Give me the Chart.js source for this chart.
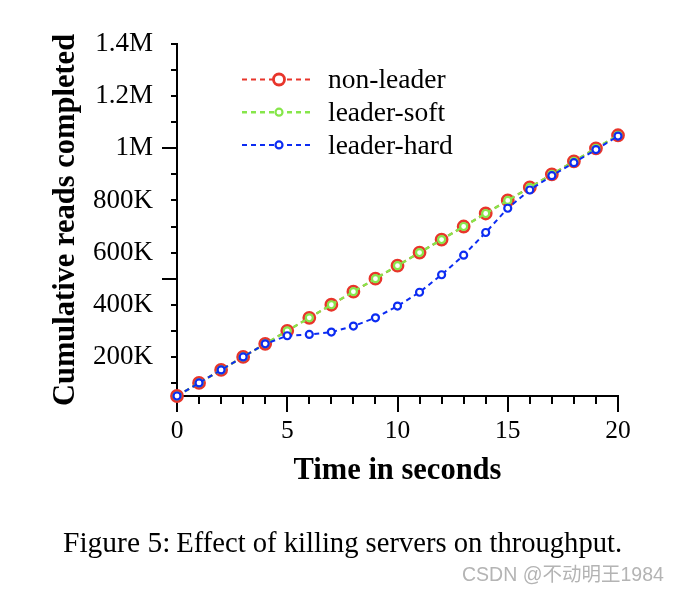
<!DOCTYPE html>
<html>
<head>
<meta charset="utf-8">
<script src="https://cdn.jsdelivr.net/npm/chart.js@4.4.1/dist/chart.umd.min.js"></script>
<style>
  html, body { margin: 0; padding: 0; background: #fff; }
  body { width: 678px; height: 594px; position: relative; overflow: hidden; }
  #wrap { position: absolute; left: 0; top: 0; width: 678px; height: 594px; }
  #caption { position: absolute; left: 63px; top: 528px; font-family: "Liberation Serif", serif; color: #000; white-space: nowrap; line-height: 1; }
  #caption .lab { font-size: 29.5px; }
  #caption .txt { font-size: 28.6px; margin-left: 2px; }
  #wm { position: absolute; left: 462px; top: 563px; font-family: "Liberation Sans", "Noto Sans CJK SC", sans-serif; font-size: 19.5px; color: #b4b4b4; white-space: nowrap; line-height: 1; }
</style>
</head>
<body>
<div id="wrap"><canvas id="c" width="678" height="594"></canvas></div>
<div id="caption"><span class="lab">Figure 5:</span>&nbsp;<span class="txt">Effect of killing servers on throughput.</span></div>
<div id="wm">CSDN @<span style="font-family:'Noto Sans CJK SC',sans-serif">不动明王</span>1984</div>
<script>
// ---- data ----
const seriesNames = ['non-leader', 'leader-soft', 'leader-hard'];
const times = [0,1,2,3,4,5,6,7,8,9,10,11,12,13,14,15,16,17,18,19,20];
const nonLeader  = [50000,100000,150000,200000,250000,300000,350000,400000,450000,500000,550000,600000,650000,700000,750000,800000,850000,900000,950000,1000000,1050000];
const leaderSoft = [50000,100000,150000,200000,250000,300000,350000,400000,450000,500000,550000,600000,650000,700000,750000,800000,850000,900000,950000,1000000,1050000];
const leaderHard = [50000,100000,150000,200000,250000,281000,286000,295000,318000,350000,395000,448000,515000,590000,677000,770000,840000,895000,945000,995000,1047000];
const xTickValues = [0,5,10,15,20];
const xTickLabels = ['0','5','10','15','20'];
const yTickValues = [200000,400000,600000,800000,1000000,1200000,1400000];
const yTickLabels = ['200K','400K','600K','800K','1M','1.2M','1.4M'];
const yMinorTicks = [100000,200000,300000,400000,500000,600000,700000,800000,900000,1000000,1100000,1200000,1300000,1400000];
const yLongTicks = [500000,1000000];
const xMinorTicks = times;

const SERIF = '"Liberation Serif", "Times New Roman", serif';

function pts(arr) { return times.map((t, i) => ({x: t, y: arr[i]})); }

const tickPlugin = {
  id: 'ticks',
  beforeDatasetsDraw(chart) {
    const ctx = chart.ctx;
    const xs = chart.scales.x, ys = chart.scales.y;
    const ca = chart.chartArea;
    ctx.save();
    ctx.strokeStyle = '#000';
    ctx.lineWidth = 2;
    ctx.beginPath();
    xMinorTicks.forEach(v => {
      const px = Math.round(xs.getPixelForValue(v));
      const len = (v % 5 === 0) ? 16 : 8;
      ctx.moveTo(px, ca.bottom);
      ctx.lineTo(px, ca.bottom + len);
    });
    yMinorTicks.forEach(v => {
      const py = Math.round(ys.getPixelForValue(v));
      const len = yLongTicks.includes(v) ? 15 : 6;
      ctx.moveTo(ca.left, py);
      ctx.lineTo(ca.left - len, py);
    });
    ctx.stroke();
    ctx.restore();
  }
};

const legendPlugin = {
  id: 'customLegend',
  afterDatasetsDraw(chart) {
    const ctx = chart.ctx;
    const ca = chart.chartArea;
    ctx.save();
    chart.data.datasets.forEach((ds, i) => {
      const y = ca.top + 35.5 + i * 32.7;
      ctx.strokeStyle = ds.borderColor;
      ctx.lineWidth = ds.borderWidth;
      ctx.setLineDash(ds.borderDash);
      ctx.beginPath();
      ctx.moveTo(242, y);
      ctx.lineTo(312, y);
      ctx.stroke();
      ctx.setLineDash([]);
      ctx.fillStyle = '#fff';
      ctx.beginPath();
      ctx.arc(279, y, ds.pointRadius, 0, Math.PI * 2);
      ctx.fill();
      ctx.strokeStyle = ds.pointBorderColor;
      ctx.lineWidth = ds.pointBorderWidth;
      ctx.stroke();
      ctx.fillStyle = '#000';
      ctx.font = '27.5px ' + SERIF;
      ctx.textBaseline = 'middle';
      ctx.textAlign = 'left';
      ctx.fillText(ds.label, 328, y + 1.5);
    });
    ctx.restore();
  }
};

const colors = ['#e8352b', '#86e64a', '#0c2cf2'];

new Chart(document.getElementById('c'), {
  type: 'line',
  data: {
    datasets: [
      { label: seriesNames[0], data: pts(nonLeader), borderColor: colors[0], borderWidth: 2, borderDash: [5,4],
        pointRadius: 5.5, pointBorderWidth: 2.8, pointBorderColor: colors[0], pointBackgroundColor: 'rgba(255,255,255,0)', order: 3, clip: false },
      { label: seriesNames[1], data: pts(leaderSoft), borderColor: colors[1], borderWidth: 2.4, borderDash: [5,4],
        pointRadius: 3.5, pointBorderWidth: 2.2, pointBorderColor: colors[1], pointBackgroundColor: '#fff', order: 2, clip: false },
      { label: seriesNames[2], data: pts(leaderHard), borderColor: colors[2], borderWidth: 2, borderDash: [5,4],
        pointRadius: 3.5, pointBorderWidth: 2.2, pointBorderColor: colors[2], pointBackgroundColor: '#fff', order: 1, clip: false }
    ]
  },
  options: {
    responsive: false,
    animation: false,
    events: [],
    layout: { padding: { left: 40, right: 60, top: 44, bottom: 104 } },
    plugins: { legend: { display: false }, tooltip: { enabled: false } },
    elements: { line: { tension: 0 } },
    scales: {
      x: {
        type: 'linear', min: 0, max: 20,
        afterBuildTicks: s => { s.ticks = xTickValues.map(v => ({value: v})); },
        afterFit: s => { s.height = 94; },
        ticks: { callback: (v) => xTickLabels[xTickValues.indexOf(v)], font: { family: SERIF, size: 25.5 }, color: '#000', padding: 20, maxRotation: 0, autoSkip: false },
        grid: { display: false, drawTicks: false },
        border: { display: true, color: '#000', width: 2 },
        title: { display: true, text: 'Time in seconds', font: { family: SERIF, size: 30.5, weight: 'bold' }, color: '#000', padding: { top: 0, bottom: 1 } }
      },
      y: {
        type: 'linear', min: 50000, max: 1400000,
        afterBuildTicks: s => { s.ticks = yTickValues.map(v => ({value: v})); },
        afterFit: s => { s.width = 137; },
        ticks: { callback: (v) => yTickLabels[yTickValues.indexOf(v)], font: { family: SERIF, size: 27 }, color: '#000', padding: 24, autoSkip: false },
        grid: { display: false, drawTicks: false },
        border: { display: true, color: '#000', width: 2 },
        title: { display: true, text: 'Cumulative reads completed', font: { family: SERIF, size: 30.5, weight: 'bold' }, color: '#000', padding: { top: 8, bottom: 0 } }
      }
    }
  },
  plugins: [tickPlugin, legendPlugin]
});
</script>
</body>
</html>
